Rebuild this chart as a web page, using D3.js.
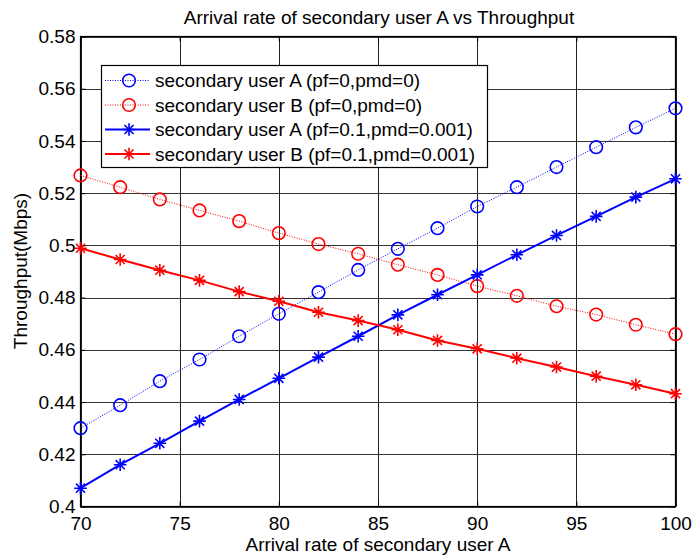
<!DOCTYPE html>
<html><head><meta charset="utf-8">
<script src="https://cdn.jsdelivr.net/npm/d3@7"></script>
<style>body{margin:0;background:#fff}svg{display:block;font-family:"Liberation Sans",Arial,sans-serif}</style>
</head><body><svg id="c" width="692" height="557"></svg>
<script>
const xValues = [70,72,74,76,78,80,82,84,86,88,90,92,94,96,98,100];
const userA_ideal = [0.4300,0.4388,0.4480,0.4563,0.4652,0.4738,0.4821,0.4906,0.4987,0.5066,0.5149,0.5223,0.5300,0.5376,0.5452,0.5525];
const userB_ideal = [0.5268,0.5223,0.5176,0.5134,0.5093,0.5047,0.5005,0.4968,0.4926,0.4887,0.4844,0.4807,0.4767,0.4735,0.4696,0.4660];
const userA_real = [0.4070,0.4160,0.4242,0.4327,0.4410,0.4491,0.4572,0.4652,0.4734,0.4811,0.4887,0.4964,0.5038,0.5111,0.5185,0.5255];
const userB_real = [0.4989,0.4946,0.4905,0.4866,0.4823,0.4786,0.4744,0.4712,0.4677,0.4636,0.4604,0.4568,0.4534,0.4499,0.4466,0.4432];
const xTicks = [70,75,80,85,90,95,100];
const yTicks = [0.4,0.42,0.44,0.46,0.48,0.5,0.52,0.54,0.56,0.58];
const yTickLabels = ["0.4","0.42","0.44","0.46","0.48","0.5","0.52","0.54","0.56","0.58"];
const seriesNames = ["secondary user A (pf=0,pmd=0)","secondary user B (pf=0,pmd=0)","secondary user A (pf=0.1,pmd=0.001)","secondary user B (pf=0.1,pmd=0.001)"];
const seriesColors = ["#0000ff","#ff0000","#0000ff","#ff0000"];
const seriesMarkers = ["circle","circle","star","star"];
const seriesDotted = [true,true,false,false];
const titleText = "Arrival rate of secondary user A vs Throughput";
const xLabel = "Arrival rate of secondary user A";
const yLabel = "Throughput(Mbps)";

const series = [userA_ideal,userB_ideal,userA_real,userB_real];
const L=80.5,R=675.5,T=36.5,B=506.5;
const FS=19;
const svg=d3.select("#c");
const x=d3.scaleLinear().domain([70,100]).range([L,R]);
const y=d3.scaleLinear().domain([0.4,0.58]).range([B,T]);

// grid
const g=svg.append("g");
g.selectAll(".vg").data(xTicks).join("line").attr("x1",d=>Math.round(x(d))+0.5).attr("x2",d=>Math.round(x(d))+0.5)
 .attr("y1",T).attr("y2",B).attr("stroke","#222").attr("stroke-width",1);
g.selectAll(".hg").data(yTicks).join("line").attr("y1",d=>Math.round(y(d))+0.5).attr("y2",d=>Math.round(y(d))+0.5)
 .attr("x1",L).attr("x2",R).attr("stroke","#333").attr("stroke-width",1.2);

// axes
const xAxis=d3.axisBottom(x).tickValues(xTicks).tickSize(-5).tickPadding(10);
const ax=svg.append("g").attr("transform",`translate(0,${B})`).call(xAxis);
const yAxis=d3.axisLeft(y).tickValues(yTicks).tickFormat((d,i)=>yTickLabels[i]).tickSize(-5).tickPadding(5);
const ay=svg.append("g").attr("transform",`translate(${L},0)`).call(yAxis);
const ayr=svg.append("g").attr("transform",`translate(${R},0)`).call(d3.axisRight(y).tickValues(yTicks).tickFormat("").tickSize(-5));
const axt=svg.append("g").attr("transform",`translate(0,${T})`).call(d3.axisTop(x).tickValues(xTicks).tickFormat("").tickSize(-5));
[ax,ay,ayr,axt].forEach(a=>{a.select(".domain").remove();a.selectAll("line").attr("stroke","#000");
 a.selectAll("text").attr("font-size",FS).attr("fill","#000").attr("font-family","'Liberation Sans',Arial,sans-serif");});
svg.append("rect").attr("x",L).attr("y",T).attr("width",R-L).attr("height",B-T).attr("fill","none").attr("stroke","#000").attr("stroke-width",1.2);

// series
function drawMarker(sel,type,color){
  if(type==="circle"){
    sel.append("circle").attr("r",6.3).attr("fill","none").attr("stroke",color).attr("stroke-width",1.6);
  } else {
    const s=6.3;
    const p=`M${-s},0L${s},0M0,${-s}L0,${s}M${-s*0.72},${-s*0.72}L${s*0.72},${s*0.72}M${-s*0.72},${s*0.72}L${s*0.72},${-s*0.72}`;
    sel.append("path").attr("d",p).attr("stroke",color).attr("stroke-width",1.6).attr("fill","none");
  }
}
const line=d3.line().x((d,i)=>x(xValues[i])).y(d=>y(d));
series.forEach((vals,k)=>{
  svg.append("path").datum(vals).attr("d",line).attr("fill","none").attr("stroke",seriesColors[k])
    .attr("stroke-width",seriesDotted[k]?1:2).attr("stroke-dasharray",seriesDotted[k]?"1,1.5":null);
  const m=svg.append("g").selectAll("g").data(vals).join("g").attr("transform",(d,i)=>`translate(${x(xValues[i])},${y(d)})`);
  m.each(function(){drawMarker(d3.select(this),seriesMarkers[k],seriesColors[k]);});
});

// legend
const lg=svg.append("g");
lg.append("rect").attr("x",101.5).attr("y",65.5).attr("width",386).attr("height",102).attr("fill","#fff").attr("stroke","#000").attr("stroke-width",1.2);
seriesNames.forEach((nm,k)=>{
  const cy=80.5+k*24.5;
  lg.append("line").attr("x1",105).attr("x2",150).attr("y1",cy).attr("y2",cy).attr("stroke",seriesColors[k])
    .attr("stroke-width",seriesDotted[k]?1:2).attr("stroke-dasharray",seriesDotted[k]?"1,1.5":null);
  const mg=lg.append("g").attr("transform",`translate(129,${cy})`);
  drawMarker(mg,seriesMarkers[k],seriesColors[k]);
  lg.append("text").attr("x",155).attr("y",cy).attr("dy","0.36em").attr("font-size",FS).text(nm);
});

// labels
svg.append("text").attr("x",379).attr("y",23.5).attr("text-anchor","middle").attr("font-size",FS).text(titleText);
svg.append("text").attr("x",378).attr("y",551).attr("text-anchor","middle").attr("font-size",FS).text(xLabel);
svg.append("text").attr("transform","translate(27,271) rotate(-90)").attr("text-anchor","middle").attr("font-size",FS).text(yLabel);
</script></body></html>
